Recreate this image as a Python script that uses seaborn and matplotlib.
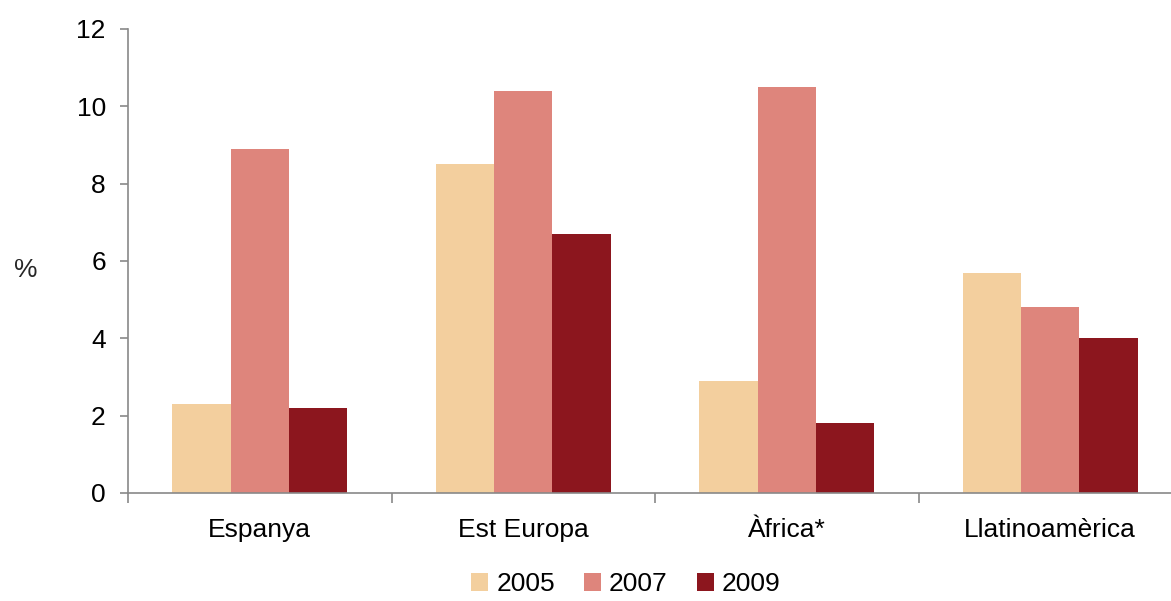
import numpy as np
import pandas as pd
import matplotlib
matplotlib.use("Agg")
import matplotlib.pyplot as plt
import seaborn as sns

sns.set_theme(style="white")
plt.rcParams['font.family'] = ['Liberation Sans', 'DejaVu Sans']
plt.rcParams['text.color'] = 'black'
plt.rcParams['xtick.color'] = 'black'
plt.rcParams['ytick.color'] = 'black'

# data
regions = ["Espanya", "Est Europa", "Àfrica*", "Llatinoamèrica"]
years = ["2005", "2007", "2009"]
v2005 = [2.3, 8.5, 2.9, 5.7]
v2007 = [8.9, 10.4, 10.5, 4.8]
v2009 = [2.2, 6.7, 1.8, 4.0]
colors = ["#F3CF9E", "#DE857C", "#8C161E"]

df = pd.DataFrame({
    "regio": regions * 3,
    "any": [y for y in years for _ in regions],
    "valor": v2005 + v2007 + v2009,
})

fig = plt.figure(figsize=(11.71, 6.01), dpi=100)
# axes run a little past the right edge of the figure, as in the reference
ax = fig.add_axes([128 / 1171, 108 / 601, 4 * 263.5 / 1171, (493 - 29) / 601])

sns.barplot(data=df, x="regio", y="valor", hue="any", order=regions,
            hue_order=years, palette=colors, width=0.665, saturation=1,
            errorbar=None, linewidth=0, ax=ax)

ax.set_ylim(0, 12)
ax.set_yticks(np.arange(0, 13, 2))
ax.set_xlim(-0.5, 3.5)
ax.set_xlabel("")
ax.set_ylabel("%", rotation=0, fontsize=19, va="center", ha="center")
ax.yaxis.set_label_coords(-0.097, 0.48)

gray = "#898989"
for s in ["top", "right"]:
    ax.spines[s].set_visible(False)
for s in ["left", "bottom"]:
    ax.spines[s].set_color(gray)
    ax.spines[s].set_linewidth(1.2)

ax.tick_params(axis="y", which="major", left=True, length=6, width=1.2,
               color=gray, labelcolor="black", labelsize=19, pad=10)
ax.tick_params(axis="x", which="major", bottom=False, labelcolor="black",
               labelsize=19, pad=12)
# boundary ticks between categories
ax.set_xticks(np.arange(-0.5, 4, 1), minor=True)
ax.tick_params(axis="x", which="minor", bottom=True, length=7, width=1.2,
               color=gray, direction="out")

ax.legend(loc="center", bbox_to_anchor=(626 / 1171, 17 / 601),
          bbox_transform=fig.transFigure, ncol=3, borderpad=0,
          frameon=False, fontsize=19, handlelength=0.65, handleheight=0.65,
          handletextpad=0.3, columnspacing=1.1)

fig.savefig("out.png", dpi=100)
